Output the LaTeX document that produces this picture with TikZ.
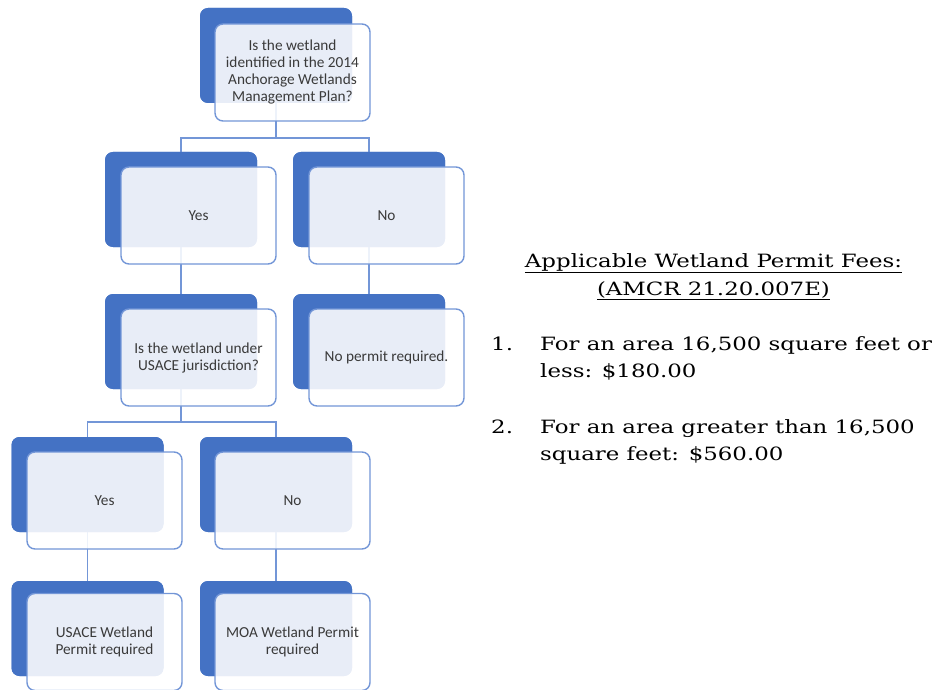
\documentclass[tikz,border=0pt]{standalone}
\usepackage{fontspec}
\setmainfont[FakeStretch=1.25]{DejaVu Serif}
\newfontfamily\boxfont{Carlito}
\definecolor{darkblue}{HTML}{4472C4}
\definecolor{edgeblue}{HTML}{7396D7}
\definecolor{txtgray}{HTML}{3A3A3A}
\begin{document}
\begin{tikzpicture}[x=1pt,y=-1pt,
  darkbox/.style={fill=darkblue, draw=none, rounded corners=8pt, minimum width=152pt, minimum height=95pt, inner sep=0pt},
  lightbox/.style={fill=white, fill opacity=0.88, draw=edgeblue, draw opacity=1, line width=1.4pt, rounded corners=8pt, minimum width=155pt, minimum height=97pt, text opacity=1, text=txtgray, font=\boxfont\fontsize{15.3}{17}\selectfont, align=center, inner sep=2pt},
  conn/.style={draw=edgeblue, line width=1.4pt},
  fee/.style={font=\fontsize{18.3}{27}\selectfont, text=black, inner sep=0pt}]
\useasboundingbox (0,0) rectangle (938,690);
% dark boxes (positions)
\node[darkbox] (topd) at (276,55.5) {};
\node[darkbox] (yesd) at (181,199.5) {};
\node[darkbox] (nod) at (369,199.5) {};
\node[darkbox] (q2d) at (181,341.5) {};
\node[darkbox] (npd) at (369,341.5) {};
\node[darkbox] (yes2d) at (87.5,484.5) {};
\node[darkbox] (no2d) at (276,484.5) {};
\node[darkbox] (usd) at (87.5,628.5) {};
\node[darkbox] (moad) at (276,628.5) {};
% connectors
\draw[conn] (topd.center) -- ++(0,82.5) -| (yesd.center);
\draw[conn] (topd.center) -- ++(0,82.5) -| (nod.center);
\draw[conn] (yesd.center) -- (q2d.center);
\draw[conn] (nod.center) -- (npd.center);
\draw[conn] (q2d.center) -- ++(0,80.5) -| (yes2d.center);
\draw[conn] (q2d.center) -- ++(0,80.5) -| (no2d.center);
\draw[conn] (yes2d.center) -- (usd.center);
\draw[conn] (no2d.center) -- (moad.center);
% redraw dark boxes over connectors
\node[darkbox] at (topd) {};
\node[darkbox] at (yesd) {};
\node[darkbox] at (nod) {};
\node[darkbox] at (q2d) {};
\node[darkbox] at (npd) {};
\node[darkbox] at (yes2d) {};
\node[darkbox] at (no2d) {};
\node[darkbox] at (usd) {};
\node[darkbox] at (moad) {};
% light boxes
\node[lightbox] (top) at (292.5,72.5) {Is the wetland\\identified in the 2014\\Anchorage Wetlands\\Management Plan?};
\node[lightbox] (yes) at (198.5,215.5) {Yes};
\node[lightbox] (no) at (386.5,215.5) {No};
\node[lightbox] (q2) at (198.5,357.5) {Is the wetland under\\USACE jurisdiction?};
\node[lightbox] (np) at (386.5,357.5) {No permit required.};
\node[lightbox] (yes2) at (104.5,500.5) {Yes};
\node[lightbox] (no2) at (292.5,500.5) {No};
\node[lightbox] (us) at (104.5,642) {USACE Wetland\\Permit required};
\node[lightbox] (moa) at (292.5,642) {MOA Wetland Permit\\required};
% fees text
\node[fee, anchor=base] (t1) at (713.5,267) {\underline{Applicable Wetland Permit Fees:}};
\node[fee, anchor=base] (t2) at (713.5,295) {\underline{(AMCR 21.20.007E)}};
\node[fee, anchor=base west] (n1) at (491,350) {1.};
\node[fee, anchor=base west] (i1a) at (540,350) {For an area 16,500 square feet or};
\node[fee, anchor=base west] (i1b) at (540,377) {less: \$180.00};
\node[fee, anchor=base west] (n2) at (491,433) {2.};
\node[fee, anchor=base west] (i2a) at (540,433) {For an area greater than 16,500};
\node[fee, anchor=base west] (i2b) at (540,460) {square feet: \$560.00};
\end{tikzpicture}
\end{document}
